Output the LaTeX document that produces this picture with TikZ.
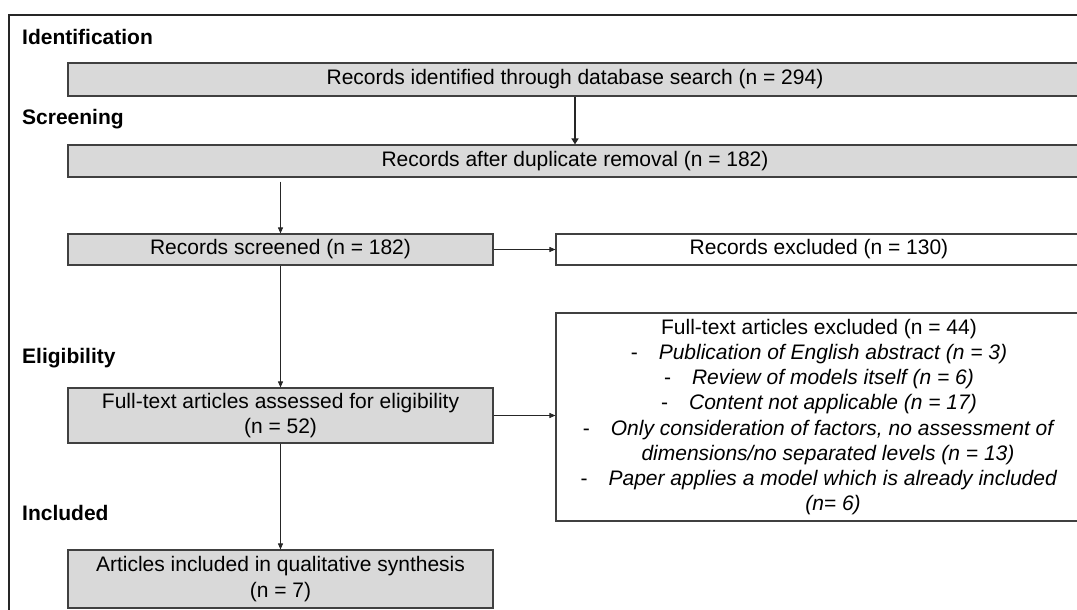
\documentclass[tikz,border=0pt]{standalone}
\usepackage{fontspec}
\setmainfont{Liberation Sans}
\usetikzlibrary{arrows.meta,calc}
\definecolor{boxgray}{HTML}{D9D9D9}
\definecolor{edgegray}{HTML}{404040}
\begin{document}
\begin{tikzpicture}[x=1pt,y=-1pt,
  txt/.style={font=\fontsize{21}{25.2}\selectfont},
  box/.style={txt,draw=edgegray,line width=1.2pt,fill=boxgray,inner sep=0pt,align=center},
  wbox/.style={box,fill=white},
  lab/.style={anchor=west,font=\fontsize{21}{25}\selectfont\bfseries,inner sep=0pt},
  arr/.style={-{Triangle[length=6pt,width=5pt]},line width=0.9pt,draw=black!85},
  thickarr/.style={arr,line width=1.8pt,-{Triangle[length=6pt,width=7pt]}}]
\useasboundingbox (0,0) rectangle (1077,610);
\clip (0,0) rectangle (1077,610);
\fill[white] (0,0) rectangle (1077,610);
\draw[line width=1.6pt, draw=black!85] (9,15) rectangle (1100,640);

\node[lab] (lid) at (22,37) {Identification};
\node[lab] (lsc) at (22,119) {Screening};
\node[lab] (lel) at (22,358) {Eligibility};
\node[lab] (lin) at (22,513) {Included};

\node[box,minimum width=1014pt,minimum height=33pt] (b1) at (575,79.5)
  {Records identified through database search (n = 294)};
\node[box,minimum width=1014pt,minimum height=32pt] (b2) at (575,161)
  {Records after duplicate removal (n = 182)};
\node[box,minimum width=425pt,minimum height=31pt] (b3) at (280.5,249.5)
  {Records screened (n = 182)};
\node[wbox,minimum width=526pt,minimum height=31pt] (b4) at (819,249.5)
  {Records excluded (n = 130)};
\node[box,minimum width=425pt,minimum height=55pt] (b5) at (280.5,415.5)
  {Full-text articles assessed for eligibility\\(n = 52)};
\node[wbox,minimum width=526pt,minimum height=208pt] (b6) at (819,417)
  {Full-text articles excluded (n = 44)\\
   -\hspace{21pt}\textit{Publication of English abstract (n = 3)}\\
   -\hspace{21pt}\textit{Review of models itself (n = 6)}\\
   -\hspace{21pt}\textit{Content not applicable (n = 17)}\\
   -\hspace{21pt}\textit{Only consideration of factors, no assessment of}\\
   \hspace{18pt}\textit{dimensions/no separated levels (n = 13)}\\
   -\hspace{21pt}\textit{Paper applies a model which is already included}\\
   \hspace{28pt}\textit{(n= 6)}};
\node[box,minimum width=425pt,minimum height=58pt] (b7) at (280.5,579)
  {Articles included in qualitative synthesis\\(n = 7)};

\draw[thickarr] (b1.south) -- (b2.north);
\draw[arr,shorten <=4pt] (b2.south -| b3.north) -- (b3.north);
\draw[arr] (b3.east) -- (b4.west);
\draw[arr] (b3.south) -- (b5.north);
\draw[arr] (b5.east) -- (b5.east -| b6.west);
\draw[arr] (b5.south) -- (b7.north);
\end{tikzpicture}
\end{document}
